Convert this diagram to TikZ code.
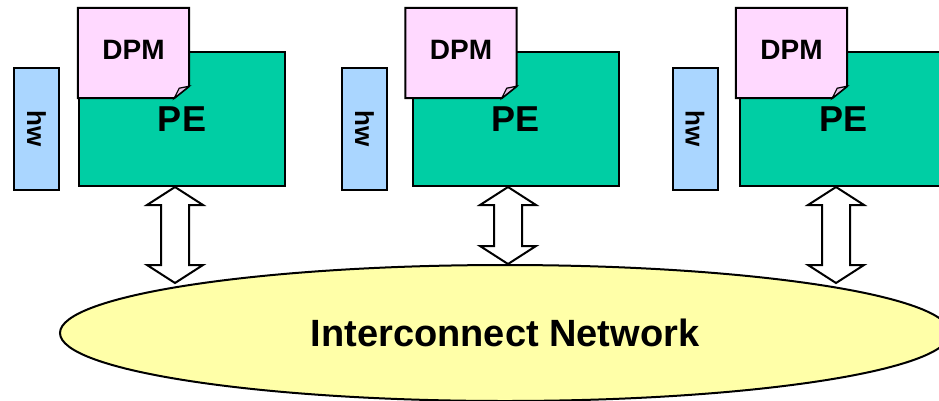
\documentclass[tikz,border=0pt]{standalone}
\usepackage{fontspec}
\setmainfont{Liberation Sans}
\usetikzlibrary{shapes.geometric,calc}
\definecolor{pegreen}{RGB}{0,206,164}
\definecolor{dpmpink}{RGB}{255,217,255}
\definecolor{hwblue}{RGB}{170,214,255}
\definecolor{netyellow}{RGB}{255,255,168}
\definecolor{foldpink}{RGB}{228,185,228}
\pgfdeclarelayer{bottomlayer}
\pgfdeclarelayer{middlelayer}
\pgfsetlayers{bottomlayer,middlelayer,main}
\tikzset{
  outline/.style={draw=black, line width=2pt},
  pebox/.style={outline, fill=pegreen, minimum width=206pt, minimum height=134pt, inner sep=0pt,
    font=\bfseries\fontsize{36}{36}\selectfont},
  hwbox/.style={outline, fill=hwblue, rotate=-90, minimum width=122pt, minimum height=45pt, inner sep=0pt,
    font=\bfseries\fontsize{26}{26}\selectfont},
  dpmbox/.style={minimum width=111pt, minimum height=90pt, inner sep=0pt, text depth=6pt,
    font=\bfseries\fontsize{28}{28}\selectfont},
  dpmshape/.style={outline, fill=dpmpink},
  foldflap/.style={draw=black, fill=foldpink, line width=1.2pt},
  netbox/.style={outline, fill=netyellow, ellipse, minimum width=890pt, minimum height=136pt, inner sep=0pt,
    font=\bfseries\fontsize{38}{38}\selectfont},
  blockarrow/.style={outline, fill=white, line join=miter},
}
\newcommand\dblarrow[2]{%
  \draw[blockarrow] (#1) -- ($(#1)+(28,18)$) -- ($(#1)+(14,18)$) -- ($(#2)+(14,-18)$)
    -- ($(#2)+(28,-18)$) -- (#2) -- ($(#2)+(-28,-18)$) -- ($(#2)+(-14,-18)$)
    -- ($(#1)+(-14,18)$) -- ($(#1)+(-28,18)$) -- cycle;}
\newcommand\dpmfolded[1]{%
  \begin{pgfonlayer}{middlelayer}
    \draw[dpmshape] (#1.north west) -- (#1.north east) -- ($(#1.south east)+(0,-12)$)
      -- ($(#1.south east)+(-15,0)$) -- (#1.south west) -- cycle;
    \draw[foldflap] ($(#1.south east)+(-15,0)$) -- ($(#1.south east)+(-10,-10)$)
      -- ($(#1.south east)+(0,-12)$) -- cycle;
  \end{pgfonlayer}}
\begin{document}
\begin{tikzpicture}[x=1pt, y=-1pt]
\useasboundingbox (0,0) rectangle (939,400);
% network
\begin{pgfonlayer}{bottomlayer}
\node[netbox] (net) at (505,333) {Interconnect Network};
\end{pgfonlayer}
% processing elements
\begin{pgfonlayer}{bottomlayer}
\node[pebox] (pe1) at (182,119) {PE};
\node[pebox] (pe2) at (515.5,119) {PE};
\node[pebox] (pe3) at (843,119) {PE};
\node[hwbox] (hw1) at (36.5,129) {hw};
\node[hwbox] (hw2) at (364.5,129) {hw};
\node[hwbox] (hw3) at (695,129) {hw};
\end{pgfonlayer}
% DPM notes
\node[dpmbox] (dpm1) at (133.5,53) {DPM};
\node[dpmbox] (dpm2) at (461,53) {DPM};
\node[dpmbox] (dpm3) at (791.5,53) {DPM};
\dpmfolded{dpm1}
\dpmfolded{dpm2}
\dpmfolded{dpm3}
% arrows
\coordinate (a1t) at ($(pe1.south)+(-7,0)$);
\coordinate (a2t) at ($(pe2.south)+(-7.5,0)$);
\coordinate (a3t) at ($(pe3.south)+(-7,0)$);
\coordinate (a1b) at (175,283);
\coordinate (a2b) at ($(net.north)+(3,0)$);
\coordinate (a3b) at (836,283);
\dblarrow{a1t}{a1b}
\dblarrow{a2t}{a2b}
\dblarrow{a3t}{a3b}
\end{tikzpicture}
\end{document}
